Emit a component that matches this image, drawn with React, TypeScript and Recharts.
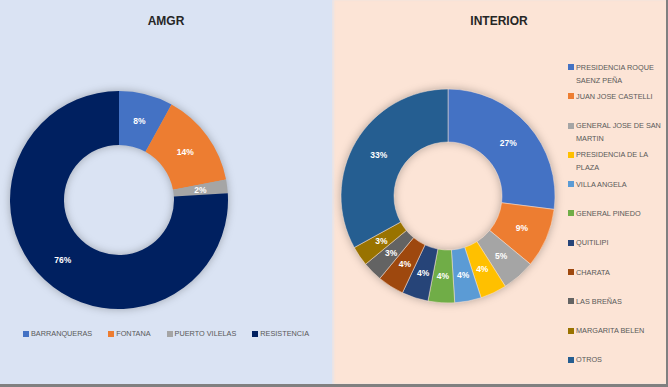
import { PieChart, Pie, Cell, Legend } from "recharts";

const amgrNames = ["BARRANQUERAS", "FONTANA", "PUERTO VILELAS", "RESISTENCIA"];
const amgrValues = [8, 14, 2, 76];
const amgrColors = ["#4472C4", "#ED7D31", "#A5A5A5", "#002060"];

const interiorNames = [
  "PRESIDENCIA ROQUE SAENZ PEÑA",
  "JUAN JOSE CASTELLI",
  "GENERAL JOSE DE SAN MARTIN",
  "PRESIDENCIA DE LA PLAZA",
  "VILLA ANGELA",
  "GENERAL PINEDO",
  "QUITILIPI",
  "CHARATA",
  "LAS BREÑAS",
  "MARGARITA BELEN",
  "OTROS",
];
const interiorValues = [27, 9, 5, 4, 4, 4, 4, 4, 3, 3, 33];
const interiorColors = [
  "#4472C4", "#ED7D31", "#A5A5A5", "#FFC000", "#5B9BD5", "#70AD47",
  "#264478", "#9E480E", "#636363", "#997300", "#255E91",
];

const amgrData = amgrNames.map((name, i) => ({ name, value: amgrValues[i] }));
const interiorData = interiorNames.map((name, i) => ({ name, value: interiorValues[i] }));

const FONT = "'Liberation Sans', Arial, sans-serif";
const RADIAN = Math.PI / 180;

function renderPct(props: any) {
  const { cx, cy, midAngle, innerRadius, outerRadius, value } = props;
  const r = (innerRadius + outerRadius) / 2;
  const x = cx + r * Math.cos(-midAngle * RADIAN);
  const y = cy + r * Math.sin(-midAngle * RADIAN);
  return (
    <text x={x} y={y} fill="#ffffff" fontSize={8.5} fontWeight="bold" fontFamily={FONT}
      textAnchor="middle" dominantBaseline="central">
      {value}%
    </text>
  );
}

function Swatch({ color }: { color: string }) {
  return <span style={{ display: "inline-block", width: 6, height: 6, background: color, marginRight: 2, flexShrink: 0, marginTop: 3.5 }} />;
}

function AmgrLegend() {
  return (
    <div style={{ display: "flex", justifyContent: "center", gap: 16, fontFamily: FONT, fontSize: 7.3, color: "#595959", lineHeight: "13px" }}>
      {amgrNames.map((n, i) => (
        <div key={n} style={{ display: "flex", alignItems: "flex-start" }}>
          <Swatch color={amgrColors[i]} />
          <span>{n}</span>
        </div>
      ))}
    </div>
  );
}

function InteriorLegend() {
  return (
    <div style={{ fontFamily: FONT, fontSize: 7.3, color: "#595959", lineHeight: "13px" }}>
      {interiorNames.map((n, i) => (
        <div key={n} style={{ display: "flex", alignItems: "flex-start", height: 29.3 }}>
          <Swatch color={interiorColors[i]} />
          <span style={{ width: 90 }}>{n}</span>
        </div>
      ))}
    </div>
  );
}

const titleStyle: React.CSSProperties = {
  position: "absolute", top: 14, left: 0, width: "100%", textAlign: "center",
  fontFamily: FONT, fontWeight: "bold", fontSize: 12, color: "#262626",
};

export default function App() {
  return (
    <div style={{ position: "absolute", left: 0, top: 0, width: 668, height: 387, background: "#808080", overflow: "hidden" }}>
      <style>{`.recharts-pie { filter: drop-shadow(0 0 4px rgba(0,0,0,0.28)); }`}</style>
      <div style={{ position: "absolute", left: 0, top: 0, width: 332, height: 384, background: "#dae3f3" }}>
        <div style={titleStyle}>AMGR</div>
        <PieChart width={332} height={384} margin={{ top: 0, right: 0, bottom: 0, left: 0 }}>
          <Pie data={amgrData} dataKey="value" nameKey="name" cx={119} cy={200}
            innerRadius={55} outerRadius={109} startAngle={90} endAngle={-270}
            stroke="none" label={renderPct} labelLine={false} isAnimationActive={false}>
            {amgrData.map((d, i) => <Cell key={d.name} fill={amgrColors[i]} />)}
          </Pie>
          <Legend layout="horizontal" verticalAlign="middle" align="center"
            wrapperStyle={{ top: 327, left: 0, width: 332 }} content={() => <AmgrLegend />} />
        </PieChart>
      </div>
      <div style={{ position: "absolute", left: 332, top: 0, width: 334, height: 384, background: "#fce4d6", boxShadow: "inset 2px 0 2px rgba(218,227,243,0.6)" }}>
        <div style={titleStyle}>INTERIOR</div>
        <PieChart width={334} height={384} margin={{ top: 0, right: 0, bottom: 0, left: 0 }}>
          <Pie data={interiorData} dataKey="value" nameKey="name" cx={116} cy={196}
            innerRadius={54} outerRadius={107} startAngle={90} endAngle={-270}
            stroke="#fce4d6" strokeWidth={0.5} label={renderPct} labelLine={false} isAnimationActive={false}>
            {interiorData.map((d, i) => <Cell key={d.name} fill={interiorColors[i]} />)}
          </Pie>
          <Legend layout="horizontal" verticalAlign="middle" align="center"
            wrapperStyle={{ top: 60.5, left: 236, width: 98 }} content={() => <InteriorLegend />} />
        </PieChart>
      </div>
    </div>
  );
}
